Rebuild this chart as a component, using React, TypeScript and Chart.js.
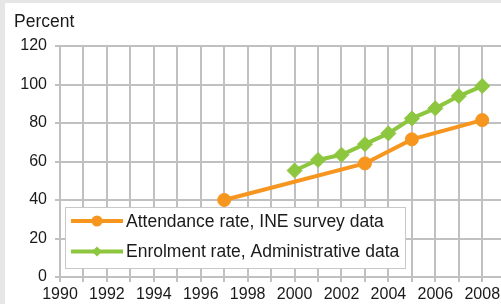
import React, { useEffect, useRef } from "react";
import { Chart, registerables } from "chart.js";

Chart.register(...registerables);

const attendanceYears = [1997, 2003, 2005, 2008];
const attendanceValues = [40, 59, 71.5, 81.5];

const enrolmentYears = [2000, 2001, 2002, 2003, 2004, 2005, 2006, 2007, 2008];
const enrolmentValues = [55.3, 60.8, 63.5, 69, 74.6, 82.4, 87.6, 94, 99.2];

const seriesLabels = ["Attendance rate, INE survey data", "Enrolment rate, Administrative data"];
const yAxisTitle = "Percent";

const ORANGE = "#f7961e";
const GREEN = "#8dc63f";
const GRID = "#c0c0c0";
const FONT = "'Liberation Sans', Arial, sans-serif";

const bgPlugin = {
  id: "bgFrame",
  beforeDraw(chart: any) {
    const ctx = chart.ctx;
    ctx.save();
    ctx.fillStyle = "#e6e6e6";
    ctx.fillRect(0, 0, chart.width, chart.height);
    ctx.fillStyle = "#ffffff";
    ctx.fillRect(5, 3, chart.width - 5, chart.height - 3);
    ctx.fillStyle = "#1a1a1a";
    ctx.font = `17.5px ${FONT}`;
    ctx.textBaseline = "alphabetic";
    ctx.textAlign = "left";
    ctx.fillText(yAxisTitle, 14, 27);
    ctx.restore();
  },
};

const legendPlugin = {
  id: "boxLegend",
  afterDraw(chart: any) {
    const ctx = chart.ctx;
    const area = chart.chartArea;
    const x0 = area.left + 5.5;
    const y0 = 207.5;
    const w = 340;
    const h = 61;
    ctx.save();
    ctx.fillStyle = "#ffffff";
    ctx.fillRect(x0, y0, w, h);
    ctx.strokeStyle = "#c8c8c8";
    ctx.lineWidth = 1;
    ctx.strokeRect(x0, y0, w, h);
    const rows = [221, 251.5];
    chart.data.datasets.forEach((ds: any, i: number) => {
      const y = rows[i];
      ctx.strokeStyle = ds.borderColor;
      ctx.lineWidth = 4;
      ctx.beginPath();
      ctx.moveTo(71, y);
      ctx.lineTo(123, y);
      ctx.stroke();
      ctx.fillStyle = ds.borderColor;
      ctx.beginPath();
      if (ds.pointStyle === "circle") {
        ctx.arc(97, y, 5.5, 0, Math.PI * 2);
      } else {
        const r = 5;
        ctx.moveTo(97 - r, y);
        ctx.lineTo(97, y - r);
        ctx.lineTo(97 + r, y);
        ctx.lineTo(97, y + r);
        ctx.closePath();
      }
      ctx.fill();
      ctx.fillStyle = "#1a1a1a";
      ctx.font = `17.5px ${FONT}`;
      ctx.textBaseline = "middle";
      ctx.textAlign = "left";
      ctx.fillText(ds.label, 126, y + 1);
    });
    ctx.restore();
  },
};

export default function App() {
  const canvasRef = useRef<HTMLCanvasElement | null>(null);

  useEffect(() => {
    document.body.style.margin = "0";
    const canvas = canvasRef.current;
    if (!canvas) return;
    const chart = new Chart(canvas, {
      type: "line",
      data: {
        datasets: [
          {
            label: seriesLabels[0],
            data: attendanceYears.map((x, i) => ({ x, y: attendanceValues[i] })),
            borderColor: ORANGE,
            backgroundColor: ORANGE,
            borderWidth: 4,
            pointStyle: "circle",
            pointRadius: 6.5,
            pointBorderWidth: 1,
            pointBackgroundColor: ORANGE,
            pointBorderColor: ORANGE,
            fill: false,
          },
          {
            label: seriesLabels[1],
            data: enrolmentYears.map((x, i) => ({ x, y: enrolmentValues[i] })),
            borderColor: GREEN,
            backgroundColor: GREEN,
            borderWidth: 4,
            pointStyle: "rectRot",
            pointRadius: 7.5,
            pointBorderWidth: 1,
            pointBackgroundColor: GREEN,
            pointBorderColor: GREEN,
            fill: false,
          },
        ] as any,
      },
      plugins: [bgPlugin, legendPlugin],
      options: {
        responsive: false,
        animation: false,
        devicePixelRatio: 1,
        layout: { autoPadding: false, padding: { top: 46, left: 0, right: 0, bottom: 0 } },
        plugins: {
          legend: { display: false },
          tooltip: { enabled: false },
          title: { display: false },
        },
        scales: {
          x: {
            type: "linear",
            bounds: "data",
            min: 1990,
            max: 2008.8,
            afterBuildTicks: (scale: any) => {
              scale.ticks = scale.ticks.filter((t: any) => Number.isInteger(t.value));
            },
            afterFit: (scale: any) => {
              scale.height = 27;
              scale.paddingLeft = 0;
              scale.paddingRight = 0;
            },
            ticks: {
              stepSize: 1,
              includeBounds: false,
              autoSkip: false,
              maxRotation: 0,
              padding: 3,
              color: "#1a1a1a",
              font: { family: FONT, size: 16 },
              callback: (v: any) => (Number(v) % 2 === 0 ? String(v) : ""),
            },
            grid: { color: GRID, lineWidth: 2, tickLength: 5, drawTicks: true },
            border: { display: false },
          },
          y: {
            min: 0,
            max: 120,
            afterFit: (scale: any) => {
              scale.width = 60;
            },
            ticks: {
              stepSize: 20,
              padding: 8,
              color: "#1a1a1a",
              font: { family: FONT, size: 16 },
            },
            grid: { color: GRID, lineWidth: 2, tickLength: 5, drawTicks: true },
            border: { display: false },
          },
        },
      } as any,
    });
    return () => chart.destroy();
  }, []);

  return (
    <div style={{ position: "absolute", left: 0, top: 0, width: 501, height: 304 }}>
      <canvas ref={canvasRef} width={501} height={304} style={{ display: "block" }} />
    </div>
  );
}
